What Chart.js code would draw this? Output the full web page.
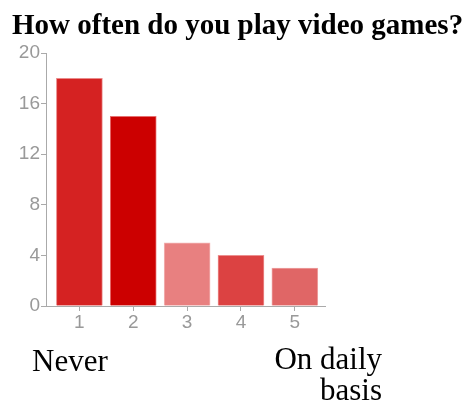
<!DOCTYPE html>
<html>
<head>
<meta charset="utf-8">
<script src="https://cdn.jsdelivr.net/npm/chart.js@4.4.0/dist/chart.umd.min.js"></script>
<style>
  html, body { margin: 0; padding: 0; background: #fff; }
  #wrap { position: relative; width: 470px; height: 409px; overflow: hidden; }
  #chart { position: absolute; left: 0; top: 0; }
  .title { position: absolute; left: 12px; top: 8px; font: bold 29px "Liberation Serif", serif; color: #000; white-space: nowrap; }
  .low { position: absolute; left: 32px; top: 343px; font: 31px "Liberation Serif", serif; color: #000; }
  .high { position: absolute; right: 88px; top: 343px; font: 31px "Liberation Serif", serif; color: #000; text-align: right; line-height: 31px; }
</style>
</head>
<body>
<div id="wrap">
  <canvas id="chart" width="470" height="409"></canvas>
  <div class="title">How often do you play video games?</div>
  <div class="low">Never</div>
  <div class="high">On daily<br>basis</div>
</div>
<script>
// les réponses (1 = jamais, 5 = tous les jours)
const categories = [1, 2, 3, 4, 5];
const counts = [18, 15, 5, 4, 3];
const barColors = ['#d52222', '#cc0000', '#e88080', '#dc4242', '#e06666'];
const barEdges = ['#ea8a8a', '#e67070', '#f2b4b4', '#ec8f8f', '#eea3a3'];
const yTicks = [0, 4, 8, 12, 16, 20];

const axisGrey = '#aaaaaa';
const tickFont = { family: 'Liberation Sans, Arial, sans-serif', size: 19 };

const ctx = document.getElementById('chart').getContext('2d');

const myChart = new Chart(ctx, {
    type: 'bar',
    data: {
        datasets: [{
            data: categories.map((c, i) => ({ x: c, y: counts[i] })),
            backgroundColor: barColors,
            borderColor: barEdges,
            borderWidth: 1,
            borderSkipped: 'bottom',
            barThickness: 46
        }]
    },
    options: {
        responsive: false,
        animation: false,
        layout: { padding: { top: 53, right: 145, left: 0, bottom: 0 } },
        plugins: { legend: { display: false }, tooltip: { enabled: false } },
        scales: {
            x: {
                type: 'linear',
                offset: false,
                min: 0.38,
                max: 5.56,
                afterBuildTicks: scale => { scale.ticks = categories.map(v => ({ value: v })); },
                afterFit: scale => { scale.height = 409 - 306; },
                grid: { offset: false, drawOnChartArea: false, color: axisGrey, tickLength: 5 },
                border: { color: axisGrey },
                ticks: { color: '#999', font: tickFont, padding: 0, maxRotation: 0 }
            },
            y: {
                min: 0,
                max: 20,
                afterBuildTicks: scale => { scale.ticks = yTicks.map(v => ({ value: v })); },
                afterFit: scale => { scale.width = 46; },
                grid: { drawOnChartArea: false, color: axisGrey, tickLength: 5 },
                border: { color: axisGrey },
                ticks: { color: '#999', font: tickFont, padding: 1 }
            }
        }
    }
});
</script>
</body>
</html>
